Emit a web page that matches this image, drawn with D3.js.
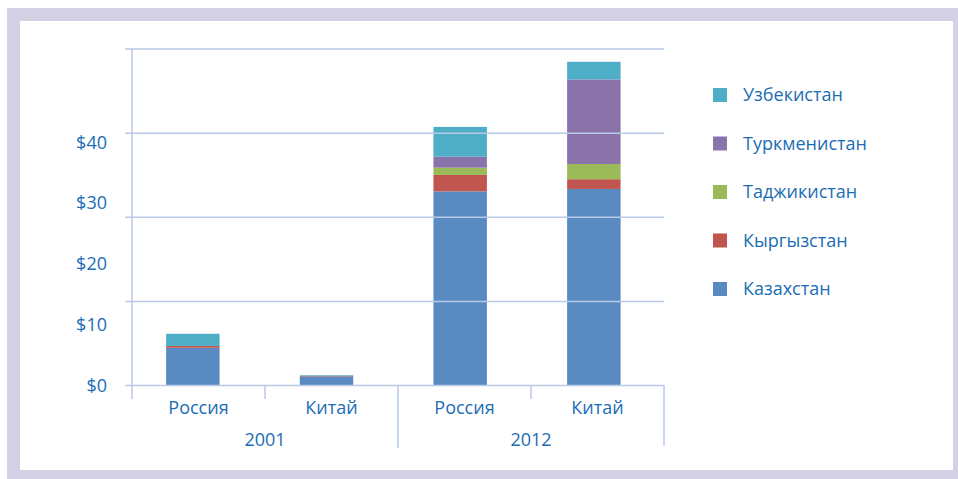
<!DOCTYPE html>
<html>
<head>
<meta charset="utf-8">
<script src="https://cdn.jsdelivr.net/npm/d3@7"></script>
<style>
  body { margin: 0; background: #fff; }
  text { font-family: "Open Sans", sans-serif; fill: #1b6db5; }
</style>
</head>
<body>
<svg class="chart" width="958" height="479"></svg>
<script>
// data
var years = ["2001", "2012"];
var countries = ["Россия", "Китай"];
var series = ["Казахстан", "Кыргызстан", "Таджикистан", "Туркменистан", "Узбекистан"];
var kazakhstan   = [6.2, 1.5, 31.9, 32.3];
var kyrgyzstan   = [0.3, 0.1, 2.7, 1.6];
var tajikistan   = [0.0, 0.0, 1.2, 2.5];
var turkmenistan = [0.0, 0.0, 1.8, 13.9];
var uzbekistan   = [2.0, 0.1, 4.9, 2.9];
var yTicks = [0, 10, 20, 30, 40];
var yMax = 55.3;

var colors = ["#5a8bc0", "#c0564f", "#9bbb59", "#8a72ab", "#4daec6"];

var svg = d3.select(".chart"),
    width = +svg.attr("width"),
    height = +svg.attr("height");

// frame
svg.append("rect").attr("x", 7).attr("y", 8).attr("width", width - 7).attr("height", height - 8).attr("fill", "#d3d1e3");
svg.append("rect").attr("x", 20).attr("y", 21).attr("width", 933).attr("height", 449).attr("fill", "#fff");

var rows = [];
years.forEach(function(yr, i) {
  countries.forEach(function(c, j) {
    var k = i * countries.length + j;
    rows.push({
      key: yr + "-" + c, year: yr, country: c,
      "Казахстан": kazakhstan[k], "Кыргызстан": kyrgyzstan[k], "Таджикистан": tajikistan[k],
      "Туркменистан": turkmenistan[k], "Узбекистан": uzbekistan[k]
    });
  });
});

var keys = rows.map(function(d) { return d.key; });

// category slots (for ticks and labels)
var slot = d3.scaleBand().domain(keys).range([132, 664]);

// bars
var x = d3.scaleBand()
    .domain(keys)
    .range([132, 664])
    .paddingInner(0.6)
    .paddingOuter(0.29)
    .align(0.44);

var y = d3.scaleLinear().domain([0, yMax]).range([385.5, 49]);

var color = d3.scaleOrdinal().domain(series).range(colors);

var stack = d3.stack().keys(series);

svg.append("g").selectAll("g")
  .data(stack(rows))
  .enter().append("g")
    .attr("fill", function(d) { return color(d.key); })
  .selectAll("rect")
  .data(function(d) { return d; })
  .enter().append("rect")
    .attr("x", function(d) { return x(d.data.key); })
    .attr("width", x.bandwidth())
    .attr("y", function(d) { return y(d[1]); })
    .attr("height", function(d) { return y(d[0]) - y(d[1]); });

// gridlines (drawn over the bars)
var gridColor = "#b9c9e8";
var grid = d3.range(5).map(function(i) { return yMax * i / 4; });
svg.append("g").selectAll("line")
  .data(grid)
  .enter().append("line")
    .attr("x1", 125).attr("x2", 664)
    .attr("y1", function(d) { return y(d); })
    .attr("y2", function(d) { return y(d); })
    .attr("stroke", gridColor)
    .attr("stroke-width", 1.5);

// y axis line
svg.append("line")
    .attr("x1", 132).attr("x2", 132).attr("y1", y(yMax)).attr("y2", 399)
    .attr("stroke", gridColor).attr("stroke-width", 1.5);

// y labels
svg.append("g").selectAll("text")
  .data(yTicks)
  .enter().append("text")
    .attr("x", 107)
    .attr("y", function(d) { return y(d); })
    .attr("dy", "0.36em")
    .attr("text-anchor", "end")
    .style("font-size", "18px")
    .text(function(d) { return "$" + d; });

// category ticks and labels
rows.forEach(function(d, i) {
  var left = slot(d.key);
  if (i > 0) {
    var isGroup = i % countries.length == 0;
    svg.append("line")
        .attr("x1", left).attr("x2", left)
        .attr("y1", 385).attr("y2", isGroup ? 448 : 399)
        .attr("stroke", gridColor).attr("stroke-width", 1.5);
  }
  svg.append("text")
      .attr("x", left + slot.bandwidth() / 2)
      .attr("y", 414)
      .attr("text-anchor", "middle")
      .style("font-size", "18px")
      .text(d.country);
});
svg.append("line")
    .attr("x1", 664).attr("x2", 664).attr("y1", 385).attr("y2", 446)
    .attr("stroke", gridColor).attr("stroke-width", 1.5);

years.forEach(function(yr, i) {
  var a = rows[i * countries.length], b = rows[i * countries.length + countries.length - 1];
  var cx = (slot(a.key) + slot(b.key) + slot.bandwidth()) / 2;
  svg.append("text")
      .attr("x", cx)
      .attr("y", 446)
      .attr("text-anchor", "middle")
      .style("font-size", "18px")
      .text(yr);
});

// legend
var legend = svg.append("g").selectAll("g")
  .data(series.slice().reverse())
  .enter().append("g")
    .attr("transform", function(d, i) { return "translate(713," + (95 + i * 48.5) + ")"; });

legend.append("rect")
    .attr("y", -7).attr("width", 14).attr("height", 14)
    .attr("fill", function(d) { return color(d); });

legend.append("text")
    .attr("x", 30)
    .attr("dy", "0.36em")
    .style("font-size", "18px")
    .text(function(d) { return d; });
</script>
</body>
</html>
